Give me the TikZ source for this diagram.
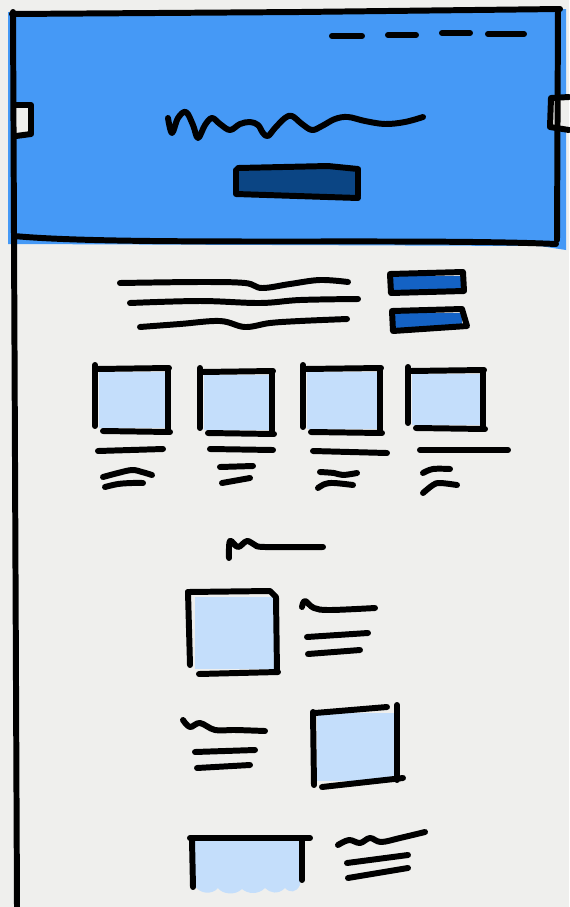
\documentclass[tikz,border=0pt]{standalone}
\usetikzlibrary{calc}
\definecolor{paper}{HTML}{EFEFED}
\definecolor{hero}{HTML}{4599F6}
\definecolor{herobtn}{HTML}{0B4584}
\definecolor{navbtn}{HTML}{1462C4}
\definecolor{thumb}{HTML}{C4DEFB}

\begin{document}
\begin{tikzpicture}[x=0.02cm, y=-0.02cm,
  ink/.style={line width=3.4pt, line cap=round, line join=round, black},
  scribble/.style={ink, smooth, tension=0.6}]
\useasboundingbox (0,0) rectangle (569,907);
\fill[paper] (0,0) rectangle (569,907);

% Header band
\fill[hero] (8,12) -- (566,9) -- (566,250) -- (540,246) -- (8,244) -- cycle;
\fill[paper] (15,104) rectangle (31,136);
\fill[paper] (550,98) rectangle (569,129);
\draw[ink] (15,105) -- (31,105) -- (31,134) -- (16,136);
\draw[ink] (569,97) -- (551,98) -- (550,127) -- (569,130);
\draw[ink] (12,14) -- (300,12) -- (560,9);
\draw[ink] (558,9) -- (557,240);
\draw[ink] (14,236) .. controls (120,246) and (420,238) .. (556,244);
\draw[ink] (13,12) -- (17,907);

% Nav dashes
\foreach \a/\b/\h in {332/362/36, 388/416/35, 442/470/33, 488/524/34}
  \draw[ink] (\a,\h) -- (\b,\h);

% Title scribble and call-to-action
\draw[scribble] plot coordinates {(168,118) (172,133) (178,118) (186,112) (193,125) (198,138) (205,125) (212,118) (220,124) (230,130) (240,124) (250,122) (258,125) (263,133) (268,136) (275,128) (285,118) (292,116) (302,124) (312,130) (322,126) (335,119) (348,117) (365,121) (385,124) (405,122) (423,117)};
\fill[herobtn] (238,168) rectangle (358,196);
\draw[ink] (236,170) -- (236,194) -- (358,198);
\draw[ink] (238,168) -- (328,166) -- (358,169) -- (358,196);

% Intro text and small buttons
\draw[scribble] plot coordinates {(120,283) (200,282) (245,283) (262,288) (290,284) (320,280) (348,282)};
\draw[scribble] plot coordinates {(130,303) (200,301) (260,303) (300,300) (358,299)};
\draw[scribble] plot coordinates {(140,327) (180,324) (220,321) (245,327) (270,323) (300,321) (347,319)};
\fill[navbtn] (392,276) rectangle (461,292);
\draw[ink] (390,274) -- (463,272) -- (464,291) -- (391,293) -- cycle;
\fill[navbtn] (394,313) rectangle (462,328);
\draw[ink] (392,311) -- (462,309) -- (467,326) -- (393,331) -- cycle;

% Row of cards
\foreach \l/\r/\t/\b in {95/168/368/431, 200/272/371/433, 303/380/368/432, 408/483/370/428}{
  \fill[thumb] (\l+4,\t+4) rectangle (\r-3,\b-3);
  \draw[ink] (\l,\t-3) -- (\l,\b-5);
  \draw[ink] (\l+2,\t+1) -- (\r+1,\t);
  \draw[ink] (\r,\t+1) -- (\r,\b);
  \draw[ink] (\l+8,\b) -- (\r+2,\b+1);
}
\draw[ink] (98,451) -- (163,449);
\draw[ink] (210,449) -- (273,450);
\draw[ink] (313,451) -- (387,453);
\draw[ink] (420,450) -- (508,450);
\draw[scribble] plot coordinates {(103,477) (118,473) (132,470) (142,472) (152,475)};
\draw[scribble] plot coordinates {(105,487) (118,484) (132,483) (143,483)};
\draw[ink] (220,467) -- (253,466);
\draw[ink] (222,483) -- (250,478);
\draw[scribble] plot coordinates {(320,472) (334,473) (343,475) (357,473)};
\draw[scribble] plot coordinates {(318,488) (325,484) (334,483) (353,485)};
\draw[scribble] plot coordinates {(423,473) (433,469) (450,469)};
\draw[scribble] plot coordinates {(423,493) (433,485) (440,483) (457,485)};

% Section heading
\draw[scribble] plot coordinates {(229,558) (230,541) (238,547) (247,541) (255,545) (265,547) (323,547)};

% Feature rows
\fill[thumb] (195,597) rectangle (274,669);
\draw[ink] (188,592) -- (190,665);
\draw[ink] (188,592) -- (270,591) -- (276,597) -- (277,672);
\draw[ink] (199,674) -- (278,672);
\draw[scribble] plot coordinates {(302,607) (305,601) (314,608) (330,610) (375,608)};
\draw[ink] (307,637) -- (368,633);
\draw[ink] (308,654) -- (360,650);

\fill[thumb] (317,713) rectangle (394,781);
\draw[ink] (313,712) -- (314,785);
\draw[ink] (315,713) -- (387,707);
\draw[ink] (397,705) -- (397,780);
\draw[ink] (322,787) -- (403,778);
\draw[scribble] plot coordinates {(183,720) (190,727) (200,723) (215,730) (235,730) (265,731)};
\draw[ink] (195,752) -- (255,750);
\draw[ink] (197,768) -- (250,765);

\fill[thumb] (195,841) -- (300,841) -- (300,885) .. controls (296,893) and (290,893) .. (285,888) .. controls (278,895) and (270,893) .. (265,888) .. controls (258,895) and (248,894) .. (242,889) .. controls (235,896) and (222,894) .. (218,888) .. controls (212,895) and (200,894) .. (195,886) -- cycle;
\draw[ink] (190,838) -- (310,838);
\draw[ink] (192,840) -- (193,887);
\draw[ink] (302,840) -- (302,880);
\draw[scribble] plot coordinates {(338,845) (349,840) (360,843) (370,838) (381,842) (400,838) (425,832)};
\draw[ink] (347,863) -- (408,855);
\draw[ink] (348,878) -- (408,868);
\end{tikzpicture}
\end{document}
